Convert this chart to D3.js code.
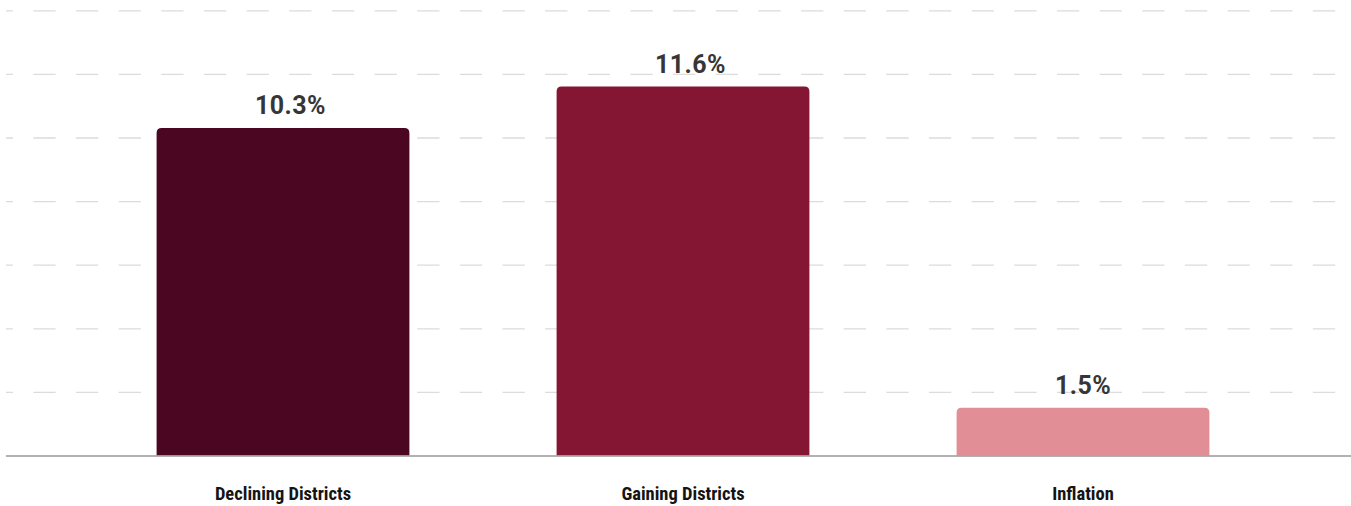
<!DOCTYPE html>
<html>
<head>
<meta charset="utf-8">
<script src="https://cdn.jsdelivr.net/npm/d3@7/dist/d3.min.js"></script>
<style>
  html, body { margin: 0; padding: 0; background: #fff; }
  svg { display: block; }
</style>
</head>
<body>
<svg id="chart" width="1351" height="506"></svg>
<script>
// Percent change by group
const categories = ["Declining Districts", "Gaining Districts", "Inflation"];
const values = [10.3, 11.6, 1.5];
const valueLabels = ["10.3%", "11.6%", "1.5%"];
const barColors = ["#4b0621", "#851633", "#e18e97"];
const gridTicks = [2, 4, 6, 8, 10, 12, 14];

const svg = d3.select("#chart");
const W = 1351, H = 506;

const x = d3.scaleBand()
  .domain(categories)
  .range([83, 1283])
  .paddingInner(0.368)
  .paddingOuter(0.184);

const y = d3.scaleLinear()
  .domain([0, 14])
  .range([455.5, 10.3]);

// dashed horizontal gridlines
const grid = svg.append("g")
  .attr("transform", "translate(6,0)")
  .call(d3.axisLeft(y).tickValues(gridTicks).tickSize(-(W - 6)).tickFormat(""));
grid.select(".domain").remove();
grid.selectAll(".tick line")
  .attr("stroke", "#dcdcdc")
  .attr("stroke-width", 1.3)
  .attr("stroke-dasharray", "22.3 20.35")
  .attr("stroke-dashoffset", 15.3);

// bars with rounded top corners
const r = 5;
function barPath(d, i) {
  const x0 = x(categories[i]), w = x.bandwidth();
  const y0 = y(d), y1 = y(0);
  return `M${x0},${y1}V${y0 + r}Q${x0},${y0} ${x0 + r},${y0}` +
         `H${x0 + w - r}Q${x0 + w},${y0} ${x0 + w},${y0 + r}V${y1}Z`;
}
svg.append("g").selectAll("path")
  .data(values)
  .join("path")
  .attr("d", barPath)
  .attr("fill", (d, i) => barColors[i]);

// baseline
svg.append("line")
  .attr("x1", 6).attr("x2", W)
  .attr("y1", y(0) + 0.5).attr("y2", y(0) + 0.5)
  .attr("stroke", "#999")
  .attr("stroke-width", 1.5);

// value labels
svg.append("g").selectAll("text")
  .data(values)
  .join("text")
  .attr("x", (d, i) => x(categories[i]) + x.bandwidth() / 2 - 28)
  .attr("y", d => y(d) - 14)
  .attr("font-family", "Roboto, 'Liberation Sans', sans-serif")
  .attr("font-weight", 700)
  .attr("font-size", 25)
  .attr("letter-spacing", 0.4)
  .attr("fill", "#363636")
  .text((d, i) => valueLabels[i]);

// category labels
svg.append("g").selectAll("text")
  .data(categories)
  .join("text")
  .attr("x", d => x(d) + x.bandwidth() / 2)
  .attr("y", 499.5)
  .attr("text-anchor", "middle")
  .attr("font-family", "'Liberation Sans Narrow', 'Roboto Condensed', 'DejaVu Sans Condensed', sans-serif")
  .attr("font-weight", 700)
  .attr("font-size", 18.5)
  .attr("fill", "#141414")
  .text(d => d);
</script>
</body>
</html>
